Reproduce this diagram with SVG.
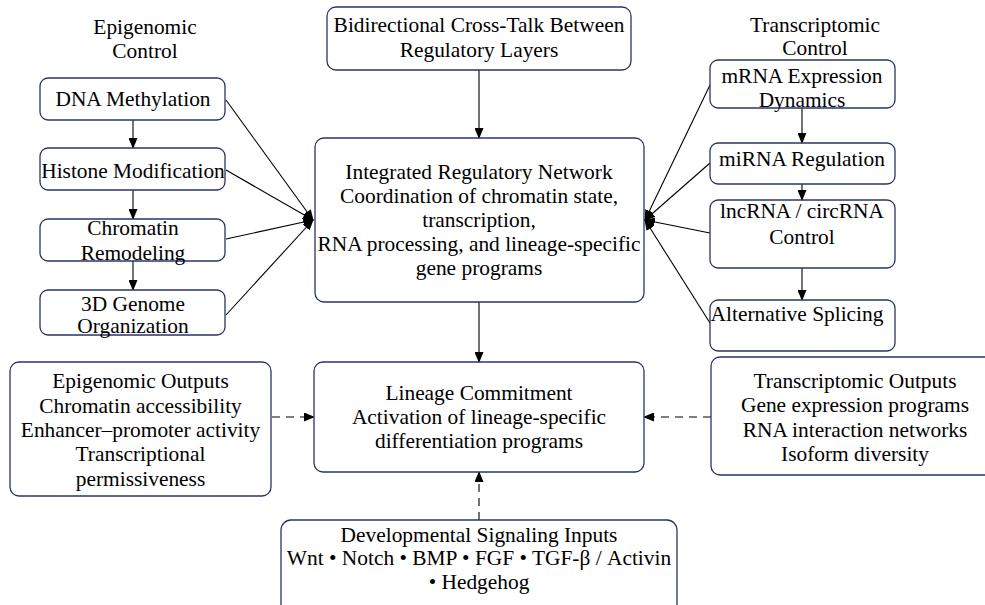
<svg xmlns="http://www.w3.org/2000/svg" width="985" height="605" viewBox="0 0 985 605">
<style>
.box{fill:#fff;stroke:#2b3467;stroke-width:1.3}
.t{font-family:"Liberation Serif","Times New Roman",serif;font-size:21.4px;fill:#000;text-anchor:middle}
.ln{stroke:#000;stroke-width:1.1;fill:none}
.d{stroke-dasharray:8 6}
</style>
<defs>
<marker id="ah" markerUnits="userSpaceOnUse" markerWidth="11" markerHeight="9" refX="10" refY="4.5" orient="auto" viewBox="0 0 11 9">
<path d="M0,0 L11,4.5 L0,9 z" fill="#000"/>
</marker>
</defs>
<rect width="985" height="605" fill="#fff"/>
<g id="connectors">
<line class="ln" x1="133" y1="120" x2="133" y2="148" marker-end="url(#ah)"/>
<line class="ln" x1="133" y1="190" x2="133" y2="219" marker-end="url(#ah)"/>
<line class="ln" x1="133" y1="261" x2="133" y2="290" marker-end="url(#ah)"/>
<line class="ln" x1="226" y1="100" x2="313" y2="220" marker-end="url(#ah)"/>
<line class="ln" x1="226" y1="170" x2="313" y2="220" marker-end="url(#ah)"/>
<line class="ln" x1="226" y1="239" x2="313" y2="220" marker-end="url(#ah)"/>
<line class="ln" x1="226" y1="315" x2="313" y2="220" marker-end="url(#ah)"/>
<line class="ln" x1="479" y1="70" x2="479" y2="138" marker-end="url(#ah)"/>
<line class="ln" x1="802" y1="108" x2="802" y2="143" marker-end="url(#ah)"/>
<line class="ln" x1="802" y1="184" x2="802" y2="200" marker-end="url(#ah)"/>
<line class="ln" x1="802" y1="268" x2="802" y2="300" marker-end="url(#ah)"/>
<line class="ln" x1="710" y1="85" x2="645" y2="220" marker-end="url(#ah)"/>
<line class="ln" x1="710" y1="163" x2="645" y2="220" marker-end="url(#ah)"/>
<line class="ln" x1="710" y1="233" x2="645" y2="220" marker-end="url(#ah)"/>
<line class="ln" x1="710" y1="323" x2="645" y2="220" marker-end="url(#ah)"/>
<line class="ln" x1="479" y1="302" x2="479" y2="362" marker-end="url(#ah)"/>
<line class="ln d" x1="272" y1="417" x2="314" y2="417" marker-end="url(#ah)"/>
<line class="ln d" x1="711" y1="417" x2="644" y2="417" marker-end="url(#ah)"/>
<line class="ln d" x1="479" y1="520" x2="479" y2="472" marker-end="url(#ah)"/>
</g>
<g id="epi-heading">
<text class="t" x="145" y="34">Epigenomic</text>
<text class="t" x="145" y="58">Control</text>
</g>
<g id="dna-methylation">
<rect class="box" x="40" y="78" width="185" height="42" rx="8"/>
<text class="t" x="133" y="106">DNA Methylation</text>
</g>
<g id="histone-modification">
<rect class="box" x="40" y="148" width="185" height="42" rx="8"/>
<text class="t" x="133" y="178">Histone Modification</text>
</g>
<g id="chromatin-remodeling">
<rect class="box" x="40" y="219" width="185" height="42" rx="8"/>
<text class="t" x="133" y="235">Chromatin</text>
<text class="t" x="133" y="260">Remodeling</text>
</g>
<g id="genome-organization">
<rect class="box" x="40" y="290" width="185" height="45" rx="8"/>
<text class="t" x="133" y="311">3D Genome</text>
<text class="t" x="133" y="333">Organization</text>
</g>
<g id="cross-talk">
<rect class="box" x="327" y="7" width="304" height="63" rx="9"/>
<text class="t" x="479" y="32">Bidirectional Cross-Talk Between</text>
<text class="t" x="479" y="57">Regulatory Layers</text>
</g>
<g id="integrated-network">
<rect class="box" x="315" y="138" width="329" height="164" rx="9"/>
<text class="t" x="479" y="179">Integrated Regulatory Network</text>
<text class="t" x="479" y="203">Coordination of chromatin state,</text>
<text class="t" x="479" y="227">transcription,</text>
<text class="t" x="479" y="251">RNA processing, and lineage-specific</text>
<text class="t" x="479" y="275">gene programs</text>
</g>
<g id="trans-heading">
<text class="t" x="815" y="32">Transcriptomic</text>
<text class="t" x="815" y="55">Control</text>
</g>
<g id="mrna">
<rect class="box" x="710" y="60" width="185" height="48" rx="8"/>
<text class="t" x="802" y="83">mRNA Expression</text>
<text class="t" x="802" y="107">Dynamics</text>
</g>
<g id="mirna">
<rect class="box" x="710" y="143" width="185" height="41" rx="8"/>
<text class="t" x="802" y="166">miRNA Regulation</text>
</g>
<g id="lncrna">
<rect class="box" x="710" y="200" width="185" height="68" rx="8"/>
<text class="t" x="802" y="218">lncRNA / circRNA</text>
<text class="t" x="802" y="244">Control</text>
</g>
<g id="splicing">
<rect class="box" x="710" y="300" width="185" height="51" rx="8"/>
<text class="t" x="797" y="321">Alternative Splicing</text>
</g>
<g id="lineage-commitment">
<rect class="box" x="314" y="362" width="330" height="110" rx="9"/>
<text class="t" x="479" y="400">Lineage Commitment</text>
<text class="t" x="479" y="424">Activation of lineage-specific</text>
<text class="t" x="479" y="448">differentiation programs</text>
</g>
<g id="epi-outputs">
<rect class="box" x="10" y="362" width="261" height="134" rx="9"/>
<text class="t" x="140.5" y="388">Epigenomic Outputs</text>
<text class="t" x="140.5" y="413">Chromatin accessibility</text>
<text class="t" x="140.5" y="437">Enhancer–promoter activity</text>
<text class="t" x="140.5" y="461">Transcriptional</text>
<text class="t" x="140.5" y="486">permissiveness</text>
</g>
<g id="trans-outputs">
<rect class="box" x="711" y="357" width="288" height="118" rx="9"/>
<text class="t" x="855" y="388">Transcriptomic Outputs</text>
<text class="t" x="855" y="412">Gene expression programs</text>
<text class="t" x="855" y="437">RNA interaction networks</text>
<text class="t" x="855" y="461">Isoform diversity</text>
</g>
<g id="signaling-inputs">
<rect class="box" x="281" y="520" width="396" height="100" rx="10"/>
<text class="t" x="479" y="542">Developmental Signaling Inputs</text>
<text class="t" x="479" y="565">Wnt • Notch • BMP • FGF • TGF-β / Activin</text>
<text class="t" x="479" y="589">• Hedgehog</text>
</g>
</svg>
